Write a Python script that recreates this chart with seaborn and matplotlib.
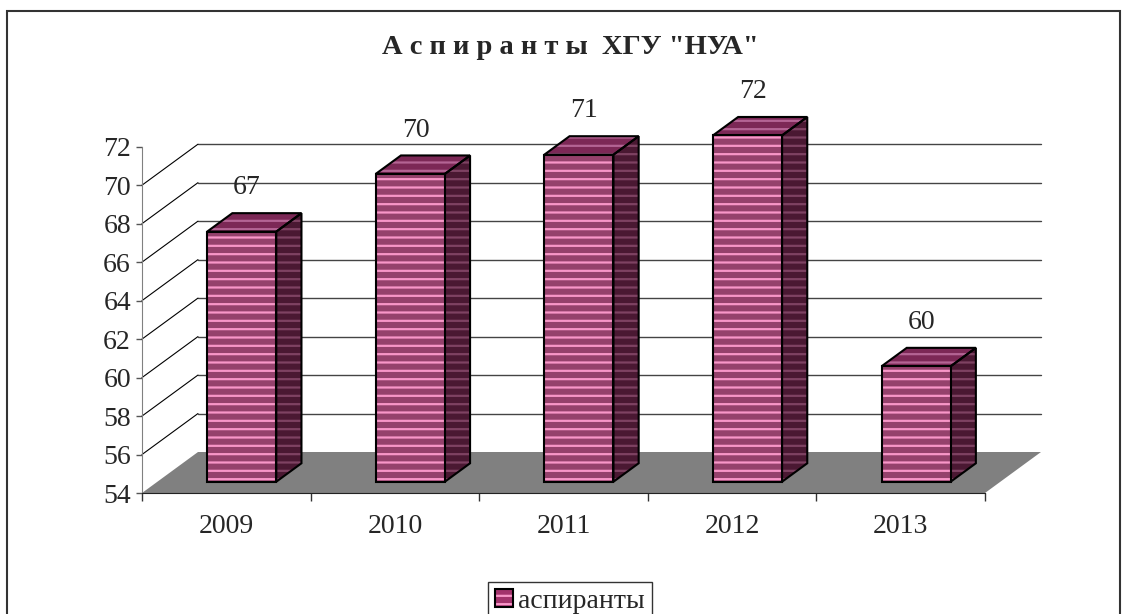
import matplotlib
matplotlib.use("Agg")
import numpy as np
import pandas as pd
import matplotlib.pyplot as plt
from matplotlib.patches import Polygon, Rectangle, Patch
from matplotlib.legend_handler import HandlerTuple
import seaborn as sns

# ── Data ──────────────────────────────────────────────────────────────────────
years = ["2009", "2010", "2011", "2012", "2013"]
counts = [67, 70, 71, 72, 60]
series_name = "аспиранты"
title = 'А с п и р а н т ы  ХГУ "НУА"'
y_ticks = list(range(54, 73, 2))
grid_vals = list(range(56, 71, 2))

# ── Style ─────────────────────────────────────────────────────────────────────
sns.set_style("white")
plt.rcParams["font.family"] = ["Liberation Serif", "DejaVu Serif"]
plt.rcParams["hatch.linewidth"] = 1.6

FRONT, FRONT_ST = "#a3336c", "#f896c8"
SIDE, SIDE_ST = "#4a1832", "#7e4262"
TOP, TOP_ST = "#7c2856", "#b46494"
FS = 20

W, H = 1123, 614
fig = plt.figure(figsize=(W / 100, H / 100), dpi=100)
ax_l, ax_r, ax_b, ax_t = 142, 985, 493, 146.7
ax = fig.add_axes([ax_l / W, 1 - ax_b / H, (ax_r - ax_l) / W, (ax_b - ax_t) / H])
ax.patch.set_visible(False)

df = pd.DataFrame({"year": years, "n": counts})
sns.barplot(data=df, x="year", y="n", ax=ax, width=0.41, color=FRONT,
            errorbar=None, zorder=4)

YMIN, YMAX = y_ticks[0], y_ticks[-1]
ax.set_xlim(-0.5, len(years) - 0.5)
ax.set_ylim(YMIN, YMAX)

# depth offset of the back wall, in data units
DX = 56 / ((ax_r - ax_l) / len(years))
DY = 41 / ((ax_b - ax_t) / (YMAX - YMIN))
D0, D1 = 0.275, 0.725


def proj(x, y, d):
    return (x + d * DX, y + d * DY)


def face(pts, bg, stripe, z):
    ax.add_patch(Polygon(pts, closed=True, facecolor=bg, edgecolor=stripe,
                         linewidth=0, hatch="--", clip_on=False, zorder=z))
    ax.add_patch(Polygon(pts, closed=True, fill=False, edgecolor="black",
                         linewidth=1.5, joinstyle="miter", clip_on=False,
                         zorder=z + 0.1))


# floor
x_lo, x_hi = -0.5, len(years) - 0.5
floor = [proj(x_lo, YMIN, 0), proj(x_hi, YMIN, 0),
         proj(x_hi, YMIN, 1), proj(x_lo, YMIN, 1)]
ax.add_patch(Polygon(floor, closed=True, facecolor="#808080", edgecolor="none",
                     clip_on=False, zorder=1))

# back wall grid + side wall diagonals
for v in grid_vals:
    bx0, by = proj(x_lo, v, 1)
    bx1, _ = proj(x_hi, v, 1)
    ax.plot([bx0, bx1], [by, by], color="#444444", lw=1, clip_on=False, zorder=1.5)
    ax.plot([x_lo, bx0], [v, by], color="black", lw=0.8, clip_on=False, zorder=1.5)

# 3D bars
for p in list(ax.patches)[: len(years)]:
    x0 = p.get_x()
    x1 = x0 + p.get_width()
    v = p.get_height()
    cx = x0 + p.get_width() / 2
    # front face is the seaborn bar, pushed to its depth
    p.set_x(x0 + D0 * DX)
    p.set_y(YMIN + D0 * DY)
    p.set_height(v - YMIN)
    p.set_edgecolor(FRONT_ST)
    p.set_linewidth(0)
    p.set_hatch("--")
    p.set_clip_on(False)
    ax.add_patch(Rectangle((x0 + D0 * DX, YMIN + D0 * DY), x1 - x0, v - YMIN,
                           fill=False, edgecolor="black", linewidth=1.5,
                           clip_on=False, zorder=4.1))
    face([proj(x1, YMIN, D0), proj(x1, v, D0), proj(x1, v, D1), proj(x1, YMIN, D1)],
         SIDE, SIDE_ST, 3)
    face([proj(x0, v, D0), proj(x1, v, D0), proj(x1, v, D1), proj(x0, v, D1)],
         TOP, TOP_ST, 3)
    ax.annotate(f"{v:.0f}", xy=proj(cx, v, 0.37), xytext=(0, 24),
                textcoords="offset points", ha="center", va="baseline",
                fontsize=FS, annotation_clip=False, zorder=6)

# ── Axes ──────────────────────────────────────────────────────────────────────
ax.set_xlabel("")
ax.set_ylabel("")
ax.set_yticks(y_ticks)
ax.set_xticks(range(len(years)))
ax.set_xticklabels(years)
ax.set_xticks(np.arange(x_lo, x_hi + 0.01, 1), minor=True)
ax.tick_params(axis="y", length=4, width=1, color="#555555", pad=4,
               labelsize=FS, left=True)
ax.tick_params(axis="x", which="major", length=0, pad=15, labelsize=FS)
ax.tick_params(axis="x", which="minor", length=6, width=1, color="#333333",
               bottom=True)
for s in ("top", "right"):
    ax.spines[s].set_visible(False)
ax.spines["left"].set_color("#808080")
ax.spines["bottom"].set_color("#222222")
ax.spines["left"].set_zorder(2)
ax.spines["bottom"].set_zorder(2)

fig.text(570 / W, 1 - 47 / H, title, ha="center", va="center",
         fontsize=20.5, fontweight="bold")

# legend
h_fill = Patch(facecolor=FRONT, edgecolor=FRONT_ST, linewidth=0, hatch="--")
h_edge = Patch(facecolor="none", edgecolor="black", linewidth=1.5)
leg = fig.legend([(h_fill, h_edge)], [series_name],
                 handler_map={tuple: HandlerTuple()},
                 loc="upper center", bbox_to_anchor=(570 / W, 1 - 582 / H),
                 frameon=True, fancybox=False, edgecolor="black", fontsize=FS,
                 handlelength=0.65, handleheight=0.65, handletextpad=0.2,
                 borderpad=0.25, borderaxespad=0)
leg.get_frame().set_linewidth(1)

# chart border
fig.add_artist(Rectangle((7 / W, -0.1), (1120 - 7) / W, 1.1 - 11 / H,
                         transform=fig.transFigure, fill=False,
                         edgecolor="#333333", linewidth=1.5))

fig.savefig("out.png", dpi=100)
